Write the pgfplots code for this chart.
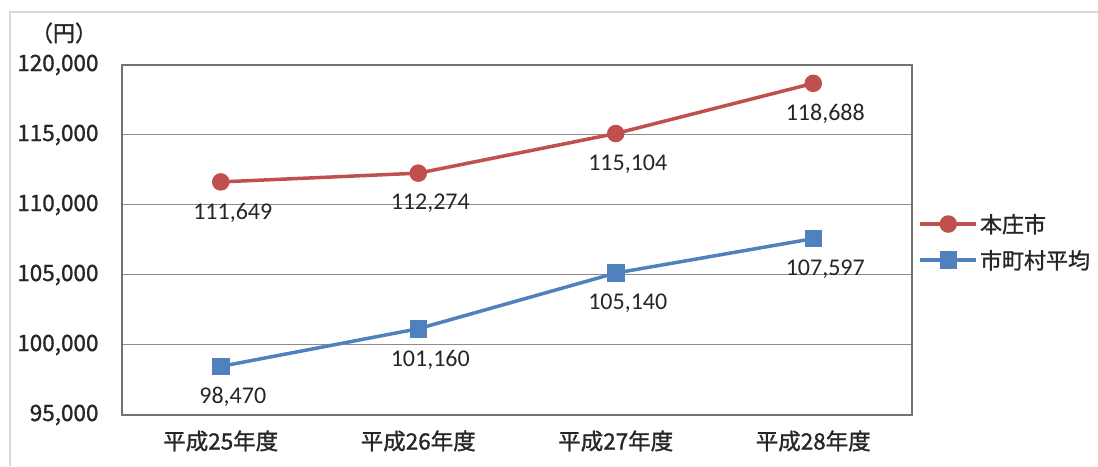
\documentclass[border=0pt]{standalone}
\usepackage{fontspec}
\usepackage{pgfplots}
\pgfplotsset{compat=1.18}
\setmainfont{Carlito}
\newfontfamily\jp[FakeBold=1.2]{Noto Sans CJK JP}
\definecolor{cred}{HTML}{C0504D}
\definecolor{cblue}{HTML}{4F81BD}
\begin{document}
\begin{tikzpicture}[x=1pt,y=1pt]
\useasboundingbox (0,0) rectangle (1098,466);
\draw[black!15, line width=1.5pt] (10,0) -- (10,454) -- (1098,454);
\node[font=\jp\fontsize{22}{26}\selectfont, text=black!85] at (64,433) {（円）};
\begin{axis}[
  at={(122pt,51pt)}, anchor=south west,
  scale only axis, width=790pt, height=350pt,
  xmin=-0.5, xmax=3.5, ymin=95000, ymax=120000,
  scaled y ticks=false,
  xtick={0,1,2,3},
  xticklabels={平成25年度,平成26年度,平成27年度,平成28年度},
  ytick={95000,100000,105000,110000,115000,120000},
  yticklabels={{95,000},{100,000},{105,000},{110,000},{115,000},{120,000}},
  major tick length=0pt,
  ymajorgrids, grid style={black!45, line width=1pt},
  axis line style={black!55, line width=2pt},
  tick label style={font=\jp\fontsize{22.5}{26}\selectfont, text=black!85},
  yticklabel style={xshift=-20pt},
  xticklabel style={yshift=-12pt},
  clip=false,
  legend style={at={(1.008,0.494)}, anchor=west, draw=none, fill=none,
    font=\jp\fontsize{22}{26}\selectfont, text=black!85, row sep=12pt, inner sep=0pt},
  legend cell align=left,
  legend image code/.code={\draw[mark repeat=2,mark phase=2] plot coordinates {(0pt,0pt) (28pt,0pt) (56pt,0pt)};},
  nodes near coords, point meta=explicit symbolic,
  every node near coord/.append style={font=\fontsize{24}{28}\selectfont, text=black!85, anchor=north, yshift=-16pt, xshift=12pt},
]
\addplot[cred, line width=3.5pt, mark=*, mark size=7pt, mark options={solid, fill=cred}]
  coordinates {(0,111649) [111,649] (1,112274) [112,274] (2,115104) [115,104] (3,118688) [118,688]};
\addlegendentry{本庄市}
\addplot[cblue, line width=3.5pt, mark=square*, mark size=7pt, mark options={solid, fill=cblue}]
  coordinates {(0,98470) [98,470] (1,101160) [101,160] (2,105140) [105,140] (3,107597) [107,597]};
\addlegendentry{市町村平均}
\end{axis}
\end{tikzpicture}
\end{document}
